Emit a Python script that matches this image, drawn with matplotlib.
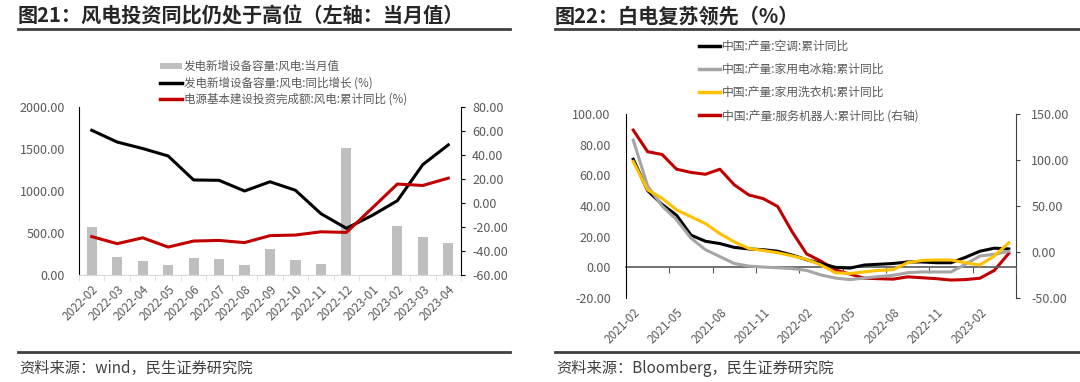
import matplotlib
matplotlib.use("Agg")
import matplotlib.pyplot as plt
import numpy as np
import pandas as pd
from matplotlib.lines import Line2D
from matplotlib.patches import Patch
from matplotlib.ticker import FormatStrFormatter

plt.rcParams["font.family"] = ["Noto Sans CJK SC", "DejaVu Sans"]

W, H = 1080, 382
TICK_COLOR = "#595959"
RED = "#c00000"

# 图21 数据
wind_months = ["2022-02", "2022-03", "2022-04", "2022-05", "2022-06", "2022-07", "2022-08",
               "2022-09", "2022-10", "2022-11", "2022-12", "2023-01", "2023-02", "2023-03",
               "2023-04"]
wind_capacity = [571, 214, 163, 119, 206, 190, 119, 306, 183, 135, 1508, np.nan, 579, 452, 380]
wind_capacity_yoy = [60.6, 50.8, 45.4, 39.2, 19.2, 18.9, 10.0, 17.7, 10.6, -8.9, -21.1,
                     -10.5, 1.9, 32.0, 48.4]
wind_invest_yoy = [-28.0, -33.9, -29.0, -36.7, -31.7, -31.2, -33.0, -27.2, -26.7, -24.0,
                   -24.5, -4.5, 15.8, 14.6, 20.7]

# 图22 数据
appliance_months = [str(p) for p in pd.period_range("2021-02", "2023-04", freq="M")]
aircon_yoy = [70.5, 50.0, 41.0, 34.0, 21.0, 17.0, 15.5, 13.0, 12.0, 11.5, 10.5, 8.0, 5.0,
              2.5, 0.0, -0.5, 1.5, 2.0, 2.5, 3.5, 3.5, 3.0, 3.0, 6.5, 10.5, 12.5, 12.0]
fridge_yoy = [83.0, 53.0, 40.0, 31.0, 19.0, 11.5, 7.0, 2.5, 0.8, 0.2, -0.3, -0.8, -2.0,
              -5.0, -7.0, -8.0, -7.0, -6.0, -5.2, -3.5, -3.0, -3.0, -3.0, 2.0, 7.4, 8.5, 10.5]
washer_yoy = [69.0, 50.5, 45.0, 37.5, 33.0, 28.5, 22.0, 16.6, 12.3, 11.0, 9.5, 7.5, 5.2,
              1.5, -3.5, -4.0, -3.0, -2.0, -1.5, 3.0, 4.5, 4.8, 4.8, 3.0, 1.5, 7.4, 16.0]
robot_yoy = [132.5, 109.0, 106.0, 90.0, 86.5, 84.5, 90.0, 73.0, 62.0, 58.0, 49.5, 22.0, -2.0,
             -10.0, -19.5, -24.0, -28.5, -29.0, -29.5, -27.0, -28.0, -29.0, -30.5, -30.0,
             -28.5, -20.0, -1.5]


def px_axes(fig, x0, y0, x1, y1):
    return fig.add_axes([x0 / W, 1 - y1 / H, (x1 - x0) / W, (y1 - y0) / H])


def hline(fig, x0, x1, y, lw=2.0, color="#404040"):
    fig.add_artist(Line2D([x0 / W, x1 / W], [1 - y / H, 1 - y / H], lw=lw, color=color,
                          transform=fig.transFigure))


def header_footer(fig, x0, x1, title, source):
    fig.text(x0 / W, 1 - 16 / H, title, fontsize=14.5, fontweight="bold", color="#262626",
             ha="left", va="center")
    hline(fig, x0, x1, 28.5)
    hline(fig, x0, x1, 352)
    fig.text((x0 + 1) / W, 1 - 368 / H, source, fontsize=11, color="#404040",
             ha="left", va="center")


fig = plt.figure(figsize=(W / 100, H / 100), dpi=100)

# ---------- 图21 ----------
header_footer(fig, 18, 510, "图21：风电投资同比仍处于高位（左轴：当月值）",
              "资料来源：wind，民生证券研究院")

ax = px_axes(fig, 79, 107, 461, 275)
x = np.arange(len(wind_months))
ax.bar(x, wind_capacity, width=0.4, color="#bfbfbf", zorder=2)
ax.set_xlim(-0.5, len(x) - 0.5)
ax.set_ylim(0, 2000)
ax.set_yticks(np.arange(0, 2001, 500))
ax.yaxis.set_major_formatter(FormatStrFormatter("%.2f"))
ax.set_xticks(x)
ax.set_xticklabels(wind_months, rotation=45, ha="right", rotation_mode="anchor")
ax.set_xticks(np.arange(-0.5, len(x), 1), minor=True)
ax.tick_params(axis="x", which="major", length=0, pad=6, labelsize=8.5, labelcolor=TICK_COLOR)
ax.tick_params(axis="x", which="minor", length=4, color="#d9d9d9")
ax.tick_params(axis="y", length=0, pad=10, labelsize=9, labelcolor=TICK_COLOR)
for side in ("top", "right"):
    ax.spines[side].set_visible(False)
ax.spines["left"].set_color("black")
ax.spines["bottom"].set_color("#d9d9d9")

ax2 = ax.twinx()
ax2.plot(x, wind_capacity_yoy, color="black", lw=2.2, zorder=3)
ax2.plot(x, wind_invest_yoy, color=RED, lw=2.2, zorder=3)
ax2.set_ylim(-60, 80)
ax2.set_yticks(np.arange(-60, 81, 20))
ax2.yaxis.set_major_formatter(FormatStrFormatter("%.2f"))
ax2.tick_params(axis="y", length=3, direction="out", color="black", pad=5, labelsize=9,
                labelcolor=TICK_COLOR)
for side in ("top", "left", "bottom"):
    ax2.spines[side].set_visible(False)
ax2.spines["right"].set_color("black")

left_handles = [
    Patch(facecolor="#bfbfbf", edgecolor="none"),
    Line2D([], [], color="black", lw=2.5),
    Line2D([], [], color=RED, lw=2.5),
]
left_labels = ["发电新增设备容量:风电:当月值", "发电新增设备容量:风电:同比增长 (%)",
               "电源基本建设投资完成额:风电:累计同比 (%)"]
fig.legend(left_handles, left_labels, loc="upper left", bbox_to_anchor=(160 / W, 1 - 60 / H),
           frameon=False, fontsize=8.3, labelcolor=TICK_COLOR, borderpad=0, borderaxespad=0,
           handlelength=1.9, handleheight=0.5, handletextpad=0.15, labelspacing=0.28)

# ---------- 图22 ----------
header_footer(fig, 555, 1080, "图22：白电复苏领先（%）", "资料来源：Bloomberg，民生证券研究院")

bx = px_axes(fig, 626, 114, 1016, 298)
m = np.arange(len(appliance_months))
bx.plot(m, aircon_yoy, color="black", lw=2.2, zorder=3)
bx.plot(m, fridge_yoy, color="#a5a5a5", lw=2.2, zorder=3)
bx.plot(m, washer_yoy, color="#ffc000", lw=2.2, zorder=4)
bx.set_xlim(-0.5, len(m) - 0.5)
bx.set_ylim(-20, 100)
bx.set_yticks(np.arange(-20, 101, 20))
bx.yaxis.set_major_formatter(FormatStrFormatter("%.2f"))
bx.set_xticks(m[::3])
bx.set_xticklabels(appliance_months[::3], rotation=45, ha="right", rotation_mode="anchor")
bx.tick_params(axis="x", length=0, pad=6, labelsize=8.5, labelcolor=TICK_COLOR)
bx.tick_params(axis="y", length=0, pad=11, labelsize=9, labelcolor=TICK_COLOR)
for side in ("top", "right", "bottom"):
    bx.spines[side].set_visible(False)
bx.spines["left"].set_color("black")

zero_axis = bx.secondary_xaxis(20 / 120)
zero_axis.set_xticks(np.arange(2.5, len(m), 3))
zero_axis.tick_params(axis="x", direction="out", length=4, color=TICK_COLOR, labelbottom=False)
zero_axis.spines["bottom"].set_color(TICK_COLOR)
zero_axis.spines["bottom"].set_linewidth(1.2)

bx2 = bx.twinx()
bx2.plot(m, robot_yoy, color=RED, lw=2.2, zorder=2)
bx2.set_ylim(-50, 150)
bx2.set_yticks(np.arange(-50, 151, 50))
bx2.yaxis.set_major_formatter(FormatStrFormatter("%.2f"))
bx2.tick_params(axis="y", length=3, direction="out", color="#404040", pad=8, labelsize=9,
                labelcolor=TICK_COLOR)
for side in ("top", "left", "bottom"):
    bx2.spines[side].set_visible(False)
bx2.spines["right"].set_color("#404040")
bx.set_zorder(bx2.get_zorder() + 1)
bx.patch.set_visible(False)

right_labels = ["中国:产量:空调:累计同比", "中国:产量:家用电冰箱:累计同比",
                "中国:产量:家用洗衣机:累计同比", "中国:产量:服务机器人:累计同比 (右轴)"]
right_handles = [Line2D([], [], color=c, lw=2.5) for c in ("black", "#a5a5a5", "#ffc000", RED)]
fig.legend(right_handles, right_labels, loc="upper left", bbox_to_anchor=(699 / W, 1 - 40 / H),
           frameon=False, fontsize=8.5, labelcolor=TICK_COLOR, borderpad=0, borderaxespad=0,
           handlelength=1.8, handletextpad=0.15, labelspacing=0.85)

fig.savefig("out.png", dpi=100)
